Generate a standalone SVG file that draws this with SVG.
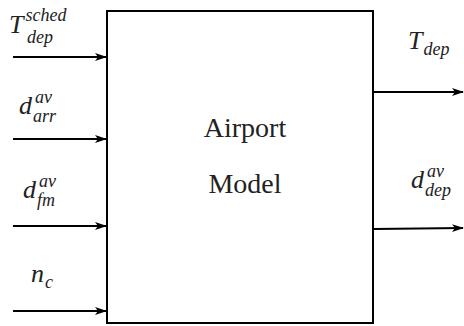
<svg xmlns="http://www.w3.org/2000/svg" width="464" height="326" viewBox="0 0 464 326">
<defs>
<marker id="ah" viewBox="0 0 12 10" refX="11" refY="5" markerWidth="12" markerHeight="10" markerUnits="userSpaceOnUse" orient="auto">
<path d="M0,1 L12,5 L0,9 L3,5 Z" fill="#000"/>
</marker>
<style>
.ln{stroke:#000;stroke-width:2;fill:none}
.m{font-style:italic;font-size:26px;fill:#222}
.s{font-size:18px}
.t{font-size:28px;fill:#222;text-anchor:middle}
</style>
</defs>
<rect width="464" height="326" fill="#fff"/>
<g id="model" font-family="'Liberation Serif', 'Times New Roman', serif">
<rect x="107" y="11" width="266" height="312" class="ln"/>
<text class="t" x="245" y="137">Airport</text>
<text class="t" x="245" y="193">Model</text>
</g>
<g id="connectors">
<line class="ln" x1="13" y1="57" x2="106" y2="57" marker-end="url(#ah)"/>
<line class="ln" x1="13" y1="139" x2="106" y2="139" marker-end="url(#ah)"/>
<line class="ln" x1="13" y1="226" x2="106" y2="226" marker-end="url(#ah)"/>
<line class="ln" x1="13" y1="311" x2="106" y2="311" marker-end="url(#ah)"/>
<line class="ln" x1="373" y1="92" x2="463" y2="92" marker-end="url(#ah)"/>
<line class="ln" x1="374" y1="229" x2="463" y2="228" marker-end="url(#ah)"/>
</g>
<g id="labels" font-family="'Liberation Serif', 'Times New Roman', serif">
<text class="m" x="9" y="33">T<tspan class="s" dx="2" dy="-12">sched</tspan><tspan class="s" x="27" dy="22">dep</tspan></text>
<text class="m" x="19" y="114">d<tspan class="s" dx="3" dy="-11">av</tspan><tspan class="s" x="33" dy="19">arr</tspan></text>
<text class="m" x="23" y="198">d<tspan class="s" dx="3" dy="-11">av</tspan><tspan class="s" x="37" dy="19">fm</tspan></text>
<text class="m" x="31" y="282">n<tspan class="s" dx="1" dy="6">c</tspan></text>
<text class="m" x="408" y="49">T<tspan class="s" dx="1" dy="6">dep</tspan></text>
<text class="m" x="411" y="188">d<tspan class="s" dx="3" dy="-11">av</tspan><tspan class="s" x="425" dy="19">dep</tspan></text>
</g>
</svg>
